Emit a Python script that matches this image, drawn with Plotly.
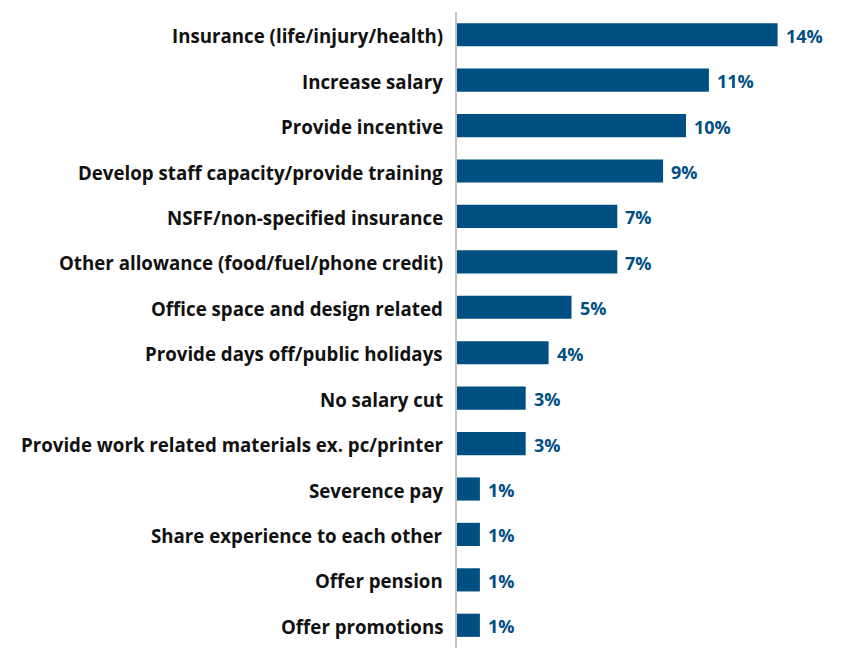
import plotly.graph_objects as go

categories = [
    "Insurance (life/injury/health)",
    "Increase salary",
    "Provide incentive",
    "Develop staff capacity/provide training",
    "NSFF/non-specified insurance",
    "Other allowance (food/fuel/phone credit)",
    "Office space and design related",
    "Provide days off/public holidays",
    "No salary cut",
    "Provide work related materials ex. pc/printer",
    "Severence pay",
    "Share experience to each other",
    "Offer pension",
    "Offer promotions",
]
values = [14, 11, 10, 9, 7, 7, 5, 4, 3, 3, 1, 1, 1, 1]
value_labels = [f"{v}%" for v in values]

BAR_COLOR = "#004f83"
FONT = "Open Sans"

fig = go.Figure(
    go.Bar(
        x=values,
        y=categories,
        orientation="h",
        marker=dict(color=BAR_COLOR, line=dict(width=0)),
        width=0.51,
        hoverinfo="skip",
    )
)

# value labels just past the end of each bar
annotations = [
    dict(
        x=v, y=c, text=t, xref="x", yref="y",
        xanchor="left", yanchor="middle", xshift=6, yshift=-1, showarrow=False,
        font=dict(family=FONT, size=18, color=BAR_COLOR, weight="bold"),
    )
    for v, c, t in zip(values, categories, value_labels)
]
# category labels, right-aligned against the axis line
annotations += [
    dict(
        x=0, y=c, text=c, xref="paper", yref="y",
        xanchor="right", yanchor="middle", xshift=-12, yshift=-1, showarrow=False,
        font=dict(family=FONT, size=18.7, color="#111111", weight="bold"),
    )
    for c in categories
]

fig.update_layout(
    width=844,
    height=650,
    margin=dict(l=457, r=0, t=12, b=2),
    paper_bgcolor="white",
    plot_bgcolor="white",
    showlegend=False,
    annotations=annotations,
    font=dict(family=FONT, size=18, color="#111111"),
)
fig.update_xaxes(
    range=[0, 16.9], visible=False, showgrid=False, zeroline=False,
)
fig.update_yaxes(
    autorange="reversed",
    showgrid=False,
    zeroline=False,
    showline=True,
    linecolor="#c4c4c4",
    linewidth=2,
    ticks="",
    showticklabels=False,
)

fig.write_html("out.html")
